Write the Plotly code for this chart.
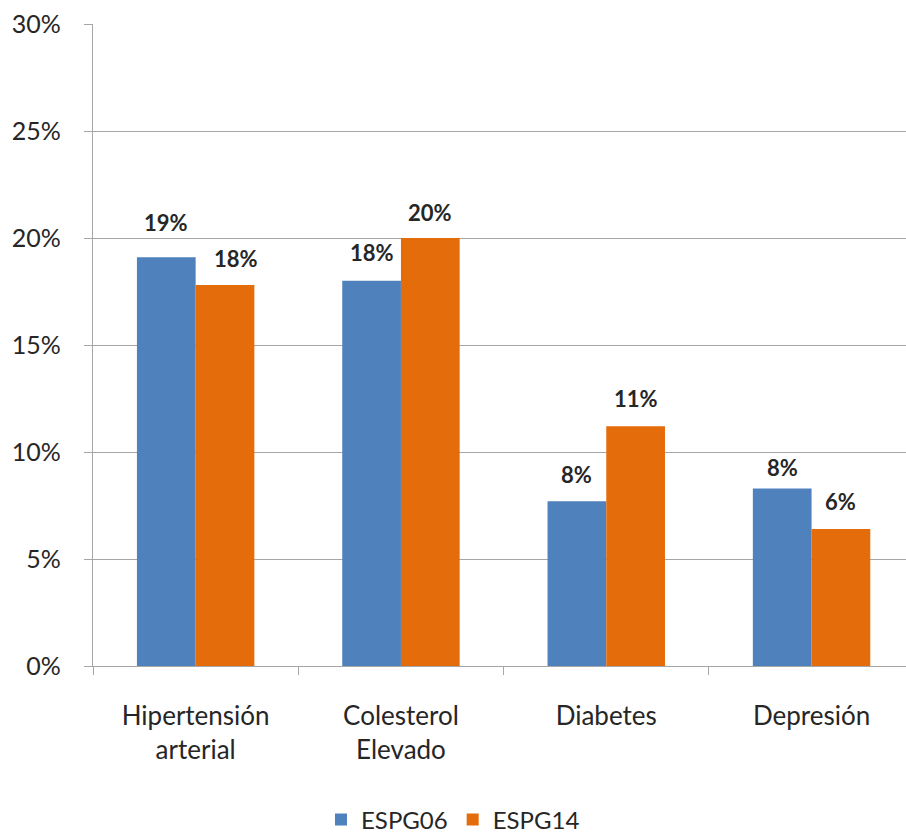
import plotly.graph_objects as go

# Prevalence of cardiovascular risk factors by survey edition
categories = ["Hipertensión<br>arterial", "Colesterol<br>Elevado", "Diabetes", "Depresión"]
espg06 = [0.191, 0.180, 0.077, 0.083]
espg14 = [0.178, 0.200, 0.112, 0.064]
labels06 = ["19%", "18%", "8%", "8%"]
labels14 = ["18%", "20%", "11%", "6%"]
y_ticks = [0, 0.05, 0.10, 0.15, 0.20, 0.25, 0.30]

BLUE = "#4F81BD"
ORANGE = "#E46C0A"
GRID = "#A6A6A6"
TEXT = "#262626"
FONT = "Lato"

fig = go.Figure()
fig.add_trace(go.Bar(name="ESPG06", x=categories, y=espg06, marker_color=BLUE,
                     marker_line_width=0, hoverinfo="skip"))
fig.add_trace(go.Bar(name="ESPG14", x=categories, y=espg14, marker_color=ORANGE,
                     marker_line_width=0, hoverinfo="skip"))

# value labels sit a little above each bar
bar_px = 58.7
shift06 = [35, 28, 27, 21]
shift14 = [27, 26, 28, 28]
dx14 = [11, 0, 0, 0]
for i, cat in enumerate(categories):
    fig.add_annotation(x=cat, y=espg06[i], text=labels06[i], showarrow=False,
                       xshift=-bar_px / 2, yshift=shift06[i], yanchor="middle",
                       font=dict(family=FONT, size=22, color=TEXT, weight="bold"))
    fig.add_annotation(x=cat, y=espg14[i], text=labels14[i], showarrow=False,
                       xshift=bar_px / 2 + dx14[i], yshift=shift14[i], yanchor="middle",
                       font=dict(family=FONT, size=22, color=TEXT, weight="bold"))

fig.update_layout(
    width=906, height=840,
    margin=dict(l=93, r=0, t=24, b=174),
    paper_bgcolor="white", plot_bgcolor="white",
    barmode="group", bargap=0.428, bargroupgap=0,
    font=dict(family=FONT, color=TEXT),
    showlegend=True,
    legend=dict(orientation="h", xref="container", yref="container",
                x=0.5, xanchor="center", y=0.024, yanchor="middle",
                font=dict(family=FONT, size=24, color=TEXT),
                itemwidth=30, tracegroupgap=0),
)
fig.update_xaxes(
    range=[-0.5, 3.46], showline=True, linecolor=GRID, linewidth=1.3,
    ticks="outside", tickson="boundaries", ticklen=8, tickcolor=GRID,
    tickfont=dict(family=FONT, size=26, color=TEXT), ticklabelstandoff=27,
    showgrid=False, fixedrange=True,
)
fig.update_yaxes(
    range=[0, 0.30], tickvals=y_ticks, tickformat=".0%",
    showline=True, linecolor=GRID, linewidth=1.3,
    ticks="outside", ticklen=8, tickcolor=GRID,
    showgrid=True, gridcolor=GRID, gridwidth=1.3, zeroline=False,
    tickfont=dict(family=FONT, size=25, color=TEXT), ticklabelstandoff=18,
    fixedrange=True,
)

fig.write_html("out.html", config={"displayModeBar": False})
